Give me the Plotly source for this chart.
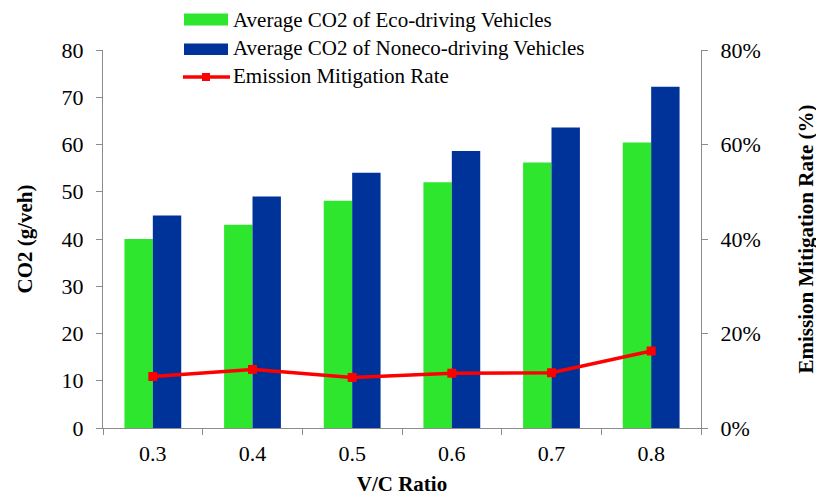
import plotly.graph_objects as go

vc_ratio = ['0.3', '0.4', '0.5', '0.6', '0.7', '0.8']
co2_eco = [40.0, 43.0, 48.1, 52.0, 56.2, 60.4]
co2_noneco = [45.0, 49.0, 54.0, 58.6, 63.6, 72.2]
mitigation_rate = [0.109, 0.124, 0.107, 0.116, 0.117, 0.163]

legend_names = ['Average CO2 of Eco-driving Vehicles',
                'Average CO2 of Noneco-driving Vehicles',
                'Emission Mitigation Rate']

GREEN = '#2EE62E'
BLUE = '#003399'
RED = '#FF0000'
AXIS_GREY = '#8C8C8C'
FONT = 'Liberation Serif, Times New Roman, serif'

fig = go.Figure()
fig.add_trace(go.Bar(x=vc_ratio, y=co2_eco, name=legend_names[0],
                     marker=dict(color=GREEN, line=dict(width=0))))
fig.add_trace(go.Bar(x=vc_ratio, y=co2_noneco, name=legend_names[1],
                     marker=dict(color=BLUE, line=dict(width=0))))
fig.add_trace(go.Scatter(x=vc_ratio, y=mitigation_rate, name=legend_names[2],
                         yaxis='y2', mode='lines+markers',
                         line=dict(color=RED, width=3.5),
                         marker=dict(symbol='square', size=9, color=RED)))

# page body has an 8px margin, so work in figure pixels = page pixels - 8
OFF = 8
FW, FH = 824 - OFF, 497 - OFF
L, R, T, B = 103 - OFF, 701 - OFF, 50 - OFF, 428 - OFF
W, H = R - L, B - T
def px(x): return (x - OFF - L) / W
def py(y): return (B - (y - OFF)) / H

# hand-drawn legend (wide colour swatches like the original)
shapes = [
    dict(type='rect', xref='paper', yref='paper', x0=px(184), x1=px(228),
         y0=py(25.5), y1=py(13.5), fillcolor=GREEN, line=dict(width=0)),
    dict(type='rect', xref='paper', yref='paper', x0=px(184), x1=px(228),
         y0=py(55), y1=py(43.5), fillcolor=BLUE, line=dict(width=0)),
    dict(type='line', xref='paper', yref='paper', x0=px(183), x1=px(230),
         y0=py(77), y1=py(77), line=dict(color=RED, width=3.5)),
    dict(type='rect', xref='paper', yref='paper', x0=px(202), x1=px(210),
         y0=py(81), y1=py(73), fillcolor=RED, line=dict(width=0)),
]
annotations = []
for name, yc in zip(legend_names, [20, 48, 76]):
    annotations.append(dict(xref='paper', yref='paper', x=px(231), y=py(yc),
                            text=name, showarrow=False, xanchor='left', yanchor='middle',
                            font=dict(family=FONT, size=21, color='black')))

fig.update_layout(
    width=FW, height=FH,
    margin=dict(l=L, r=FW - R, t=T, b=FH - B),
    paper_bgcolor='white', plot_bgcolor='white',
    barmode='group', bargap=0.43, bargroupgap=0,
    showlegend=False,
    font=dict(family=FONT, size=21, color='black'),
    shapes=shapes,
    annotations=annotations,
    xaxis=dict(
        type='category', tickson='boundaries', automargin=False,
        showline=True, linecolor=AXIS_GREY, linewidth=1,
        ticks='outside', ticklen=6, tickcolor=AXIS_GREY,
        ticklabelstandoff=6,
        showgrid=False, zeroline=False,
        title=dict(text='<b>V/C Ratio</b>', standoff=10, font=dict(size=21)),
        tickfont=dict(size=22),
    ),
    yaxis=dict(
        range=[0, 80], dtick=10, automargin=False,
        showline=True, linecolor=AXIS_GREY, linewidth=1,
        ticks='outside', ticklen=6, tickcolor=AXIS_GREY,
        ticklabelstandoff=8,
        showgrid=False, zeroline=False,
        title=dict(text='<b>CO2 (g/veh)</b>', standoff=23, font=dict(size=21)),
        tickfont=dict(size=22),
    ),
    yaxis2=dict(
        overlaying='y', side='right', automargin=False,
        range=[0, 0.8], dtick=0.2, tickformat='.0%',
        showline=True, linecolor=AXIS_GREY, linewidth=1,
        ticks='outside', ticklen=6, tickcolor=AXIS_GREY,
        ticklabelstandoff=8,
        showgrid=False, zeroline=False,
        title=dict(text='<b>Emission Mitigation Rate (%)</b>', standoff=38, font=dict(size=21)),
        tickfont=dict(size=22),
    ),
)

fig.write_html('out.html')
